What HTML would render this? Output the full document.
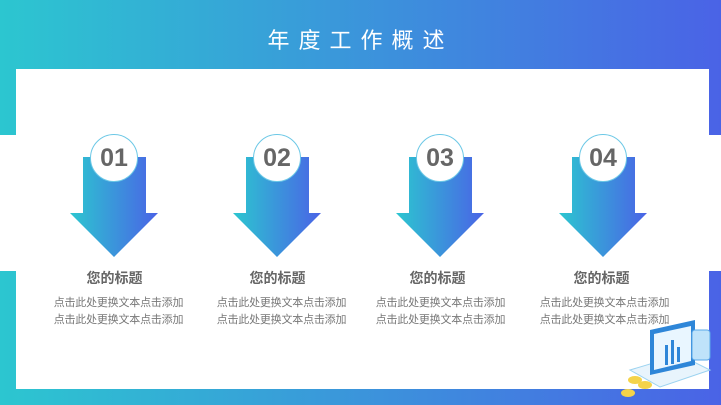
<!DOCTYPE html>
<html><head><meta charset="utf-8"><style>
body{margin:0;width:721px;height:405px;overflow:hidden;position:relative;font-family:"Liberation Sans","Noto Sans CJK SC",sans-serif;background:#fff}
.g{position:absolute;background:linear-gradient(90deg,#2cc6d0,#4a63e6)}
.w{position:absolute;background:#fff}
.title{position:absolute;top:23px;left:0;width:721px;text-align:center;color:#fff;font-size:22px;letter-spacing:9px}
.num{position:absolute;width:46px;height:46px;border-radius:50%;background:#fff;border:1px solid #6cc8e6;font-weight:bold;color:#666;font-size:25px;line-height:46px;text-align:center;box-sizing:content-box}
.h{position:absolute;top:268px;font-size:14px;font-weight:bold;color:#666;width:163px;text-align:center}
.p{position:absolute;top:295px;font-size:11px;color:#777;width:163px;text-align:center;line-height:17px;letter-spacing:-0.2px}
</style></head><body>
<div class="g" style="left:0;top:0;width:721px;height:405px"></div>
<div class="w" style="left:16px;top:69px;width:693px;height:320px"></div>
<div class="w" style="left:0;top:135px;width:721px;height:136px"></div>
<div class="title">年度工作概述</div>
<svg width="721" height="405" style="position:absolute;left:0;top:0">
<defs><linearGradient id="a" x1="0" x2="1"><stop offset="0" stop-color="#2cc6d0"/><stop offset="1" stop-color="#4a63e6"/></linearGradient></defs>
<g id="ar"><polygon fill="url(#a)" points="83,157 146,157 146,213 158,213 114,257 70,213 83,213"/></g>
<use href="#ar" x="163"/><use href="#ar" x="326"/><use href="#ar" x="489"/>
<g transform="translate(620,325)">
<polygon points="10,45 60,30 90,45 40,62" fill="#e8f4fc" stroke="#9cd3f0"/>
<polygon points="30,5 75,-5 75,40 30,50" fill="#2e86d8"/>
<polygon points="34,9 71,1 71,36 34,45" fill="#e9f6ff"/>
<rect x="45" y="20" width="3" height="20" fill="#2e86d8"/><rect x="51" y="15" width="3" height="24" fill="#2e86d8"/><rect x="57" y="22" width="3" height="15" fill="#2e86d8"/>
<ellipse cx="15" cy="55" rx="7" ry="4" fill="#f4d34a"/><ellipse cx="25" cy="60" rx="7" ry="4" fill="#f4d34a"/><ellipse cx="8" cy="68" rx="7" ry="4" fill="#f4d34a"/>
<rect x="72" y="5" width="18" height="30" rx="3" fill="#bfe3fa" stroke="#5aa8e8"/>
</g>
</svg>
<div class="num" style="left:90px;top:134px">01</div>
<div class="num" style="left:253px;top:134px">02</div>
<div class="num" style="left:416px;top:134px">03</div>
<div class="num" style="left:579px;top:134px">04</div>
<div class="h" style="left:33px">您的标题</div><div class="p" style="left:37px">点击此处更换文本点击添加<br>点击此处更换文本点击添加</div>
<div class="h" style="left:196px">您的标题</div><div class="p" style="left:200px">点击此处更换文本点击添加<br>点击此处更换文本点击添加</div>
<div class="h" style="left:356px">您的标题</div><div class="p" style="left:359px">点击此处更换文本点击添加<br>点击此处更换文本点击添加</div>
<div class="h" style="left:520px">您的标题</div><div class="p" style="left:523px">点击此处更换文本点击添加<br>点击此处更换文本点击添加</div>
</body></html>
